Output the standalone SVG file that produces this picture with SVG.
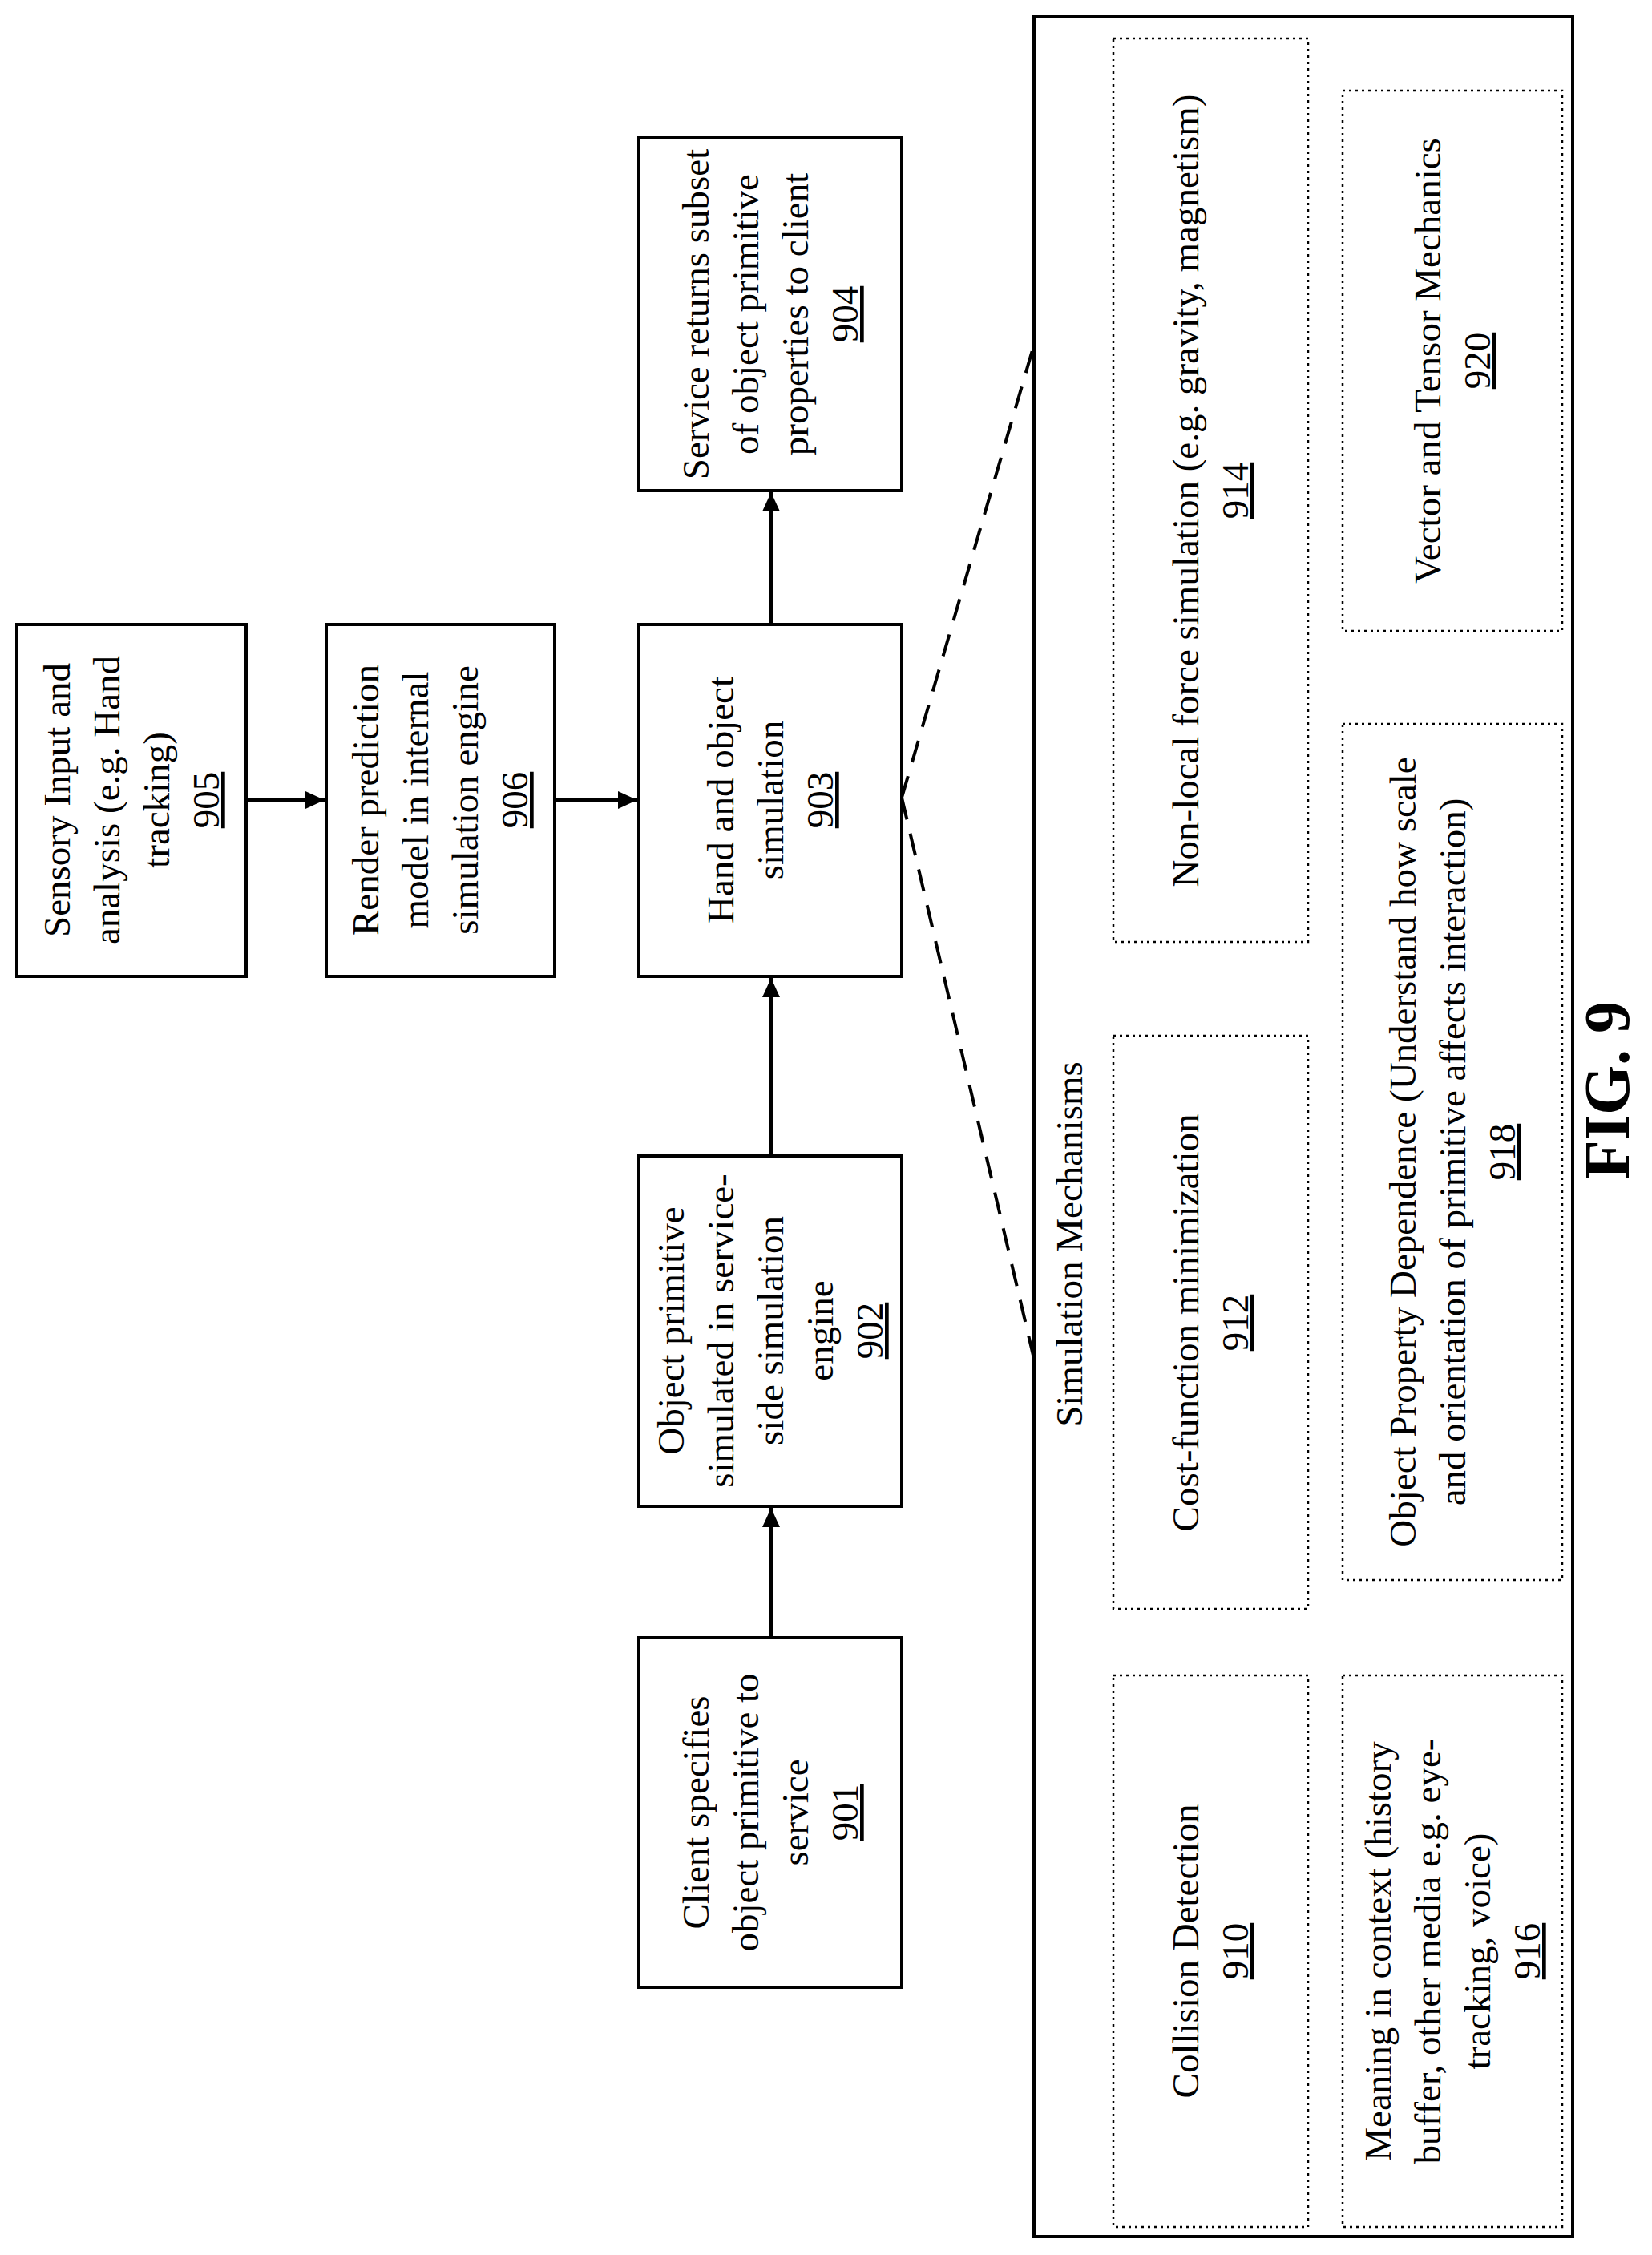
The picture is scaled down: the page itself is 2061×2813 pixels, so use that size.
<svg xmlns="http://www.w3.org/2000/svg" width="2061" height="2813" viewBox="0 0 2061 2813">
<style>
.b{fill:#fff;stroke:#000;stroke-width:4}
.d{fill:none;stroke:#000;stroke-width:2.5;stroke-dasharray:3 5}
.o{fill:none;stroke:#000;stroke-width:4}
text{font-family:"Liberation Serif","Times New Roman",serif;font-size:47px;text-anchor:middle;fill:#000}
.u{text-decoration:underline}
.c{stroke:#000;stroke-width:4;fill:none}
.dash{stroke:#000;stroke-width:4;fill:none;stroke-dasharray:28 18}
</style>
<defs><marker id="a" markerWidth="24" markerHeight="22" refX="24" refY="11" orient="auto" markerUnits="userSpaceOnUse" viewBox="0 0 24 22"><path d="M0,0L24,11L0,22z"/></marker></defs>
<rect width="2061" height="2813" fill="#fff"/>
<g id="connectors">
<line class="c" x1="307" y1="998" x2="405" y2="998" marker-end="url(#a)"/>
<line class="c" x1="692" y1="998" x2="795" y2="998" marker-end="url(#a)"/>
<line class="c" x1="962" y1="779" x2="962" y2="614" marker-end="url(#a)"/>
<line class="c" x1="962" y1="1442" x2="962" y2="1220" marker-end="url(#a)"/>
<line class="c" x1="962" y1="2043" x2="962" y2="1881" marker-end="url(#a)"/>
<line class="dash" x1="1125" y1="995" x2="1290" y2="430"/>
<line class="dash" x1="1125" y1="995" x2="1290" y2="1695"/>
</g>
<g id="n905"><rect class="b" x="21" y="779" width="286" height="439"/>
<text transform="translate(164,998) rotate(-90)"><tspan x="0" y="-77">Sensory Input and</tspan><tspan x="0" y="-15">analysis (e.g. Hand</tspan><tspan x="0" y="47">tracking)</tspan><tspan x="0" y="109" class="u">905</tspan></text></g>
<g id="n906"><rect class="b" x="407" y="779" width="285" height="439"/>
<text transform="translate(549,998) rotate(-90)"><tspan x="0" y="-77">Render prediction</tspan><tspan x="0" y="-15">model in internal</tspan><tspan x="0" y="47">simulation engine</tspan><tspan x="0" y="109" class="u">906</tspan></text></g>
<g id="n903"><rect class="b" x="797" y="779" width="328" height="439"/>
<text transform="translate(961,998) rotate(-90)"><tspan x="0" y="-46">Hand and object</tspan><tspan x="0" y="16">simulation</tspan><tspan x="0" y="78" class="u">903</tspan></text></g>
<g id="n904"><rect class="b" x="797" y="172" width="328" height="440"/>
<text transform="translate(961,392) rotate(-90)"><tspan x="0" y="-77">Service returns subset</tspan><tspan x="0" y="-15">of object primitive</tspan><tspan x="0" y="47">properties to client</tspan><tspan x="0" y="109" class="u">904</tspan></text></g>
<g id="n902"><rect class="b" x="797" y="1442" width="328" height="437"/>
<text transform="translate(961,1660) rotate(-90)"><tspan x="0" y="-108">Object primitive</tspan><tspan x="0" y="-46">simulated in service-</tspan><tspan x="0" y="16">side simulation</tspan><tspan x="0" y="78">engine</tspan><tspan x="0" y="140" class="u">902</tspan></text></g>
<g id="n901"><rect class="b" x="797" y="2043" width="328" height="436"/>
<text transform="translate(961,2261) rotate(-90)"><tspan x="0" y="-77">Client specifies</tspan><tspan x="0" y="-15">object primitive to</tspan><tspan x="0" y="47">service</tspan><tspan x="0" y="109" class="u">901</tspan></text></g>
<g id="mechanisms"><rect class="o" x="1290" y="21" width="672" height="2769"/>
<text transform="translate(1350,1552) rotate(-90)">Simulation Mechanisms</text></g>
<g id="n910"><rect class="d" x="1389" y="2090" width="243" height="688"/>
<text transform="translate(1510,2434) rotate(-90)"><tspan x="0" y="-15">Collision Detection</tspan><tspan x="0" y="47" class="u">910</tspan></text></g>
<g id="n912"><rect class="d" x="1389" y="1292" width="243" height="715"/>
<text transform="translate(1510,1650) rotate(-90)"><tspan x="0" y="-15">Cost-function minimization</tspan><tspan x="0" y="47" class="u">912</tspan></text></g>
<g id="n914"><rect class="d" x="1389" y="48" width="243" height="1127"/>
<text transform="translate(1510,612) rotate(-90)"><tspan x="0" y="-15">Non-local force simulation (e.g. gravity, magnetism)</tspan><tspan x="0" y="47" class="u">914</tspan></text></g>
<g id="n916"><rect class="d" x="1675" y="2090" width="274" height="688"/>
<text transform="translate(1812,2434) rotate(-90)"><tspan x="0" y="-77">Meaning in context (history</tspan><tspan x="0" y="-15">buffer, other media e.g. eye-</tspan><tspan x="0" y="47">tracking, voice)</tspan><tspan x="0" y="109" class="u">916</tspan></text></g>
<g id="n918"><rect class="d" x="1675" y="903" width="274" height="1068"/>
<text transform="translate(1812,1437) rotate(-90)"><tspan x="0" y="-46">Object Property Dependence (Understand how scale</tspan><tspan x="0" y="16">and orientation of primitive affects interaction)</tspan><tspan x="0" y="78" class="u">918</tspan></text></g>
<g id="n920"><rect class="d" x="1675" y="113" width="274" height="674"/>
<text transform="translate(1812,450) rotate(-90)"><tspan x="0" y="-15">Vector and Tensor Mechanics</tspan><tspan x="0" y="47" class="u">920</tspan></text></g>
<text transform="translate(2032,1360) rotate(-90)" style="font-size:80px;font-weight:bold">FIG. 9</text>
</svg>
